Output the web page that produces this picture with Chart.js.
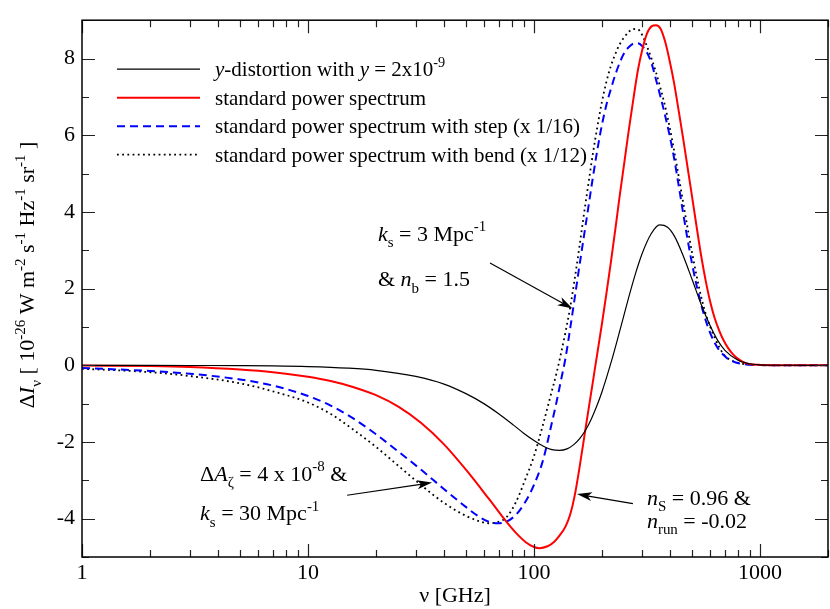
<!DOCTYPE html>
<html lang="en">
<head>
<meta charset="UTF-8">
<title>Spectral distortions</title>
<script src="https://cdn.jsdelivr.net/npm/chart.js"></script>
<style>
    body { margin: 0; background: #fff; }
    #wrap { width: 830px; height: 609px; }
</style>
</head>
<body>
<div id="wrap"><canvas id="spec" width="830" height="609"></canvas></div>
<script>
// frequencies in GHz, Delta I in 1e-26 W m^-2 s^-1 Hz^-1 sr^-1
var nuY = [1, 2, 3, 5, 7, 10, 15, 20, 30, 40, 50, 60, 70, 80, 90, 100, 110, 120, 130, 140, 150, 160, 170, 180, 190, 200,
    220, 240, 260, 280, 300, 330, 360, 390, 420, 460, 500, 550, 600, 650, 700, 800, 900, 1000, 1200, 2000];
var dIY = [0, -0.002, -0.005, -0.01, -0.017, -0.034, -0.075, -0.131, -0.29, -0.49, -0.74, -1.0, -1.27, -1.53, -1.77, -1.96,
    -2.11, -2.20, -2.22, -2.18, -2.07, -1.90, -1.67, -1.38, -1.05, -0.69,
    0.10, 0.91, 1.68, 2.35, 2.89, 3.43, 3.66, 3.60, 3.35, 2.82, 2.25, 1.58, 1.05, 0.65, 0.39, 0.13, 0.04, 0.012, 0.001, 0];

var nuStd = [1, 2, 3, 5, 7, 10, 12.6, 15.8, 20, 25.1, 31.6, 39.8, 50.1, 63.1, 75.3, 83.2, 92.3, 100, 105.7,
    114.8, 123, 129.4, 138, 144.5, 151.4, 158.5, 169.4, 173.8, 182, 190.5, 199.5, 208.9, 218.8, 229.1, 239.9, 251.2,
    263, 275.4, 288.4, 302, 316.2, 331.1, 346.7, 363.1, 380.2, 398.1, 416.9, 436.5, 457.1, 478.6, 501.2, 524.8, 549.5,
    575.4, 602.6, 631, 660.7, 691.8, 724.4, 758.6, 794.3, 831.8, 871, 933, 1000, 1259, 2000];
var dIStd = [-0.005, -0.02, -0.045, -0.11, -0.18, -0.30, -0.41, -0.565, -0.78, -1.08, -1.5, -2.05, -2.73, -3.48, -4.07,
    -4.37, -4.62, -4.74, -4.77,
    -4.72, -4.6, -4.45, -4.2, -3.9, -3.4, -2.72, -1.62, -1.2, -0.45, 0.3, 1.05, 1.85, 2.68, 3.55, 4.45, 5.3,
    6.15, 6.95, 7.7, 8.25, 8.65, 8.84, 8.87, 8.78, 8.45, 7.95, 7.36, 6.65, 5.92, 5.15, 4.38, 3.6, 2.85,
    2.2, 1.65, 1.22, 0.9, 0.64, 0.44, 0.29, 0.18, 0.1, 0.05, 0.02, 0.01, 0, 0];

var nuFine = [1, 2, 3, 5, 7, 10, 12.6, 15.8, 20, 25.1, 31.6, 39.8, 50.1, 57.5, 63.1, 69.2, 75.9, 83.2, 91.2, 100, 109.6,
    120.2, 125.9, 131.8, 138, 144.5, 151.4, 158.5, 166, 173.8, 182, 190.5, 199.5, 208.9, 218.8, 229.1, 239.9, 251.2,
    263, 275.4, 288.4, 302, 316.2, 331.1, 346.7, 363.1, 380.2, 398.1, 416.9, 436.5, 457.1, 478.6, 501.2, 524.8, 549.5,
    575.4, 602.6, 631, 660.7, 691.8, 724.4, 758.6, 794.3, 871, 1000, 1259, 2000];
var dIStep = [-0.07, -0.15, -0.22, -0.37, -0.53, -0.8, -1.05, -1.38, -1.8, -2.25, -2.72, -3.22, -3.70, -3.96, -4.08,
    -4.12, -4.07, -3.9, -3.58, -3.12, -2.48,
    -1.48, -0.95, -0.38, 0.2, 0.95, 1.75, 2.55, 3.33, 4.1, 4.88, 5.6, 6.25, 6.78, 7.2, 7.58, 7.9, 8.15,
    8.3, 8.39, 8.4, 8.32, 8.16, 7.88, 7.45, 7.0, 6.52, 6.0, 5.4, 4.7, 3.97, 3.27, 2.63, 2.07, 1.58,
    1.17, 0.84, 0.58, 0.39, 0.26, 0.16, 0.1, 0.06, 0.02, 0.005, 0, 0];
var dIBend = [-0.09, -0.18, -0.28, -0.47, -0.68, -0.97, -1.27, -1.67, -2.13, -2.62, -3.12, -3.58, -3.93, -4.07, -4.12,
    -4.09, -3.95, -3.57, -3.0, -2.37, -1.55,
    -0.65, -0.2, 0.32, 0.88, 1.5, 2.25, 3.05, 3.9, 4.7, 5.5, 6.2, 6.85, 7.38, 7.8, 8.12, 8.38, 8.56,
    8.7, 8.77, 8.76, 8.6, 8.32, 8.0, 7.64, 7.22, 6.76, 6.22, 5.6, 4.94, 4.25, 3.57, 2.92, 2.32, 1.78,
    1.34, 1.0, 0.72, 0.47, 0.28, 0.17, 0.11, 0.07, 0.025, 0.007, 0, 0];

var xMajor = [1, 10, 100, 1000];
var yMajor = [-4, -2, 0, 2, 4, 6, 8];
var yMinor = [-5, -3, -1, 1, 3, 5, 7, 9];

var FONT = '"Liberation Serif", "Times New Roman", serif';
Chart.defaults.font.family = FONT;
Chart.defaults.color = '#000';

function pts(xs, ys) {
    return xs.map(function (x, i) { return { x: x, y: ys[i] }; });
}

// text with italics, super- and subscripts: parts = [[text, mode], ...]
function rich(ctx, parts, x, y, size, measureOnly) {
    var cx = x;
    parts.forEach(function (p) {
        var m = p[1] || '';
        var small = m.indexOf('sup') >= 0 || m.indexOf('sub') >= 0;
        var fs = small ? size * 0.68 : size;
        ctx.font = (m.charAt(0) === 'i' ? 'italic ' : '') + fs + 'px ' + FONT;
        var dy = m.indexOf('sup') >= 0 ? -size * 0.42 : (m.indexOf('sub') >= 0 ? size * 0.3 : 0);
        if (!measureOnly) ctx.fillText(p[0], cx, y + dy);
        cx += ctx.measureText(p[0]).width;
    });
    return cx - x;
}

function arrow(ctx, x1, y1, x2, y2) {
    var ang = Math.atan2(y2 - y1, x2 - x1);
    ctx.beginPath();
    ctx.moveTo(x1, y1);
    ctx.lineTo(x2 - 10 * Math.cos(ang), y2 - 10 * Math.sin(ang));
    ctx.stroke();
    ctx.save();
    ctx.translate(x2, y2);
    ctx.rotate(ang);
    ctx.beginPath();
    ctx.moveTo(0, 0);
    ctx.lineTo(-15, -4.5);
    ctx.lineTo(-11, 0);
    ctx.lineTo(-15, 4.5);
    ctx.closePath();
    ctx.fill();
    ctx.restore();
}

var framePlugin = {
    id: 'frame',
    afterDatasetsDraw: function (chart) {
        var ctx = chart.ctx, a = chart.chartArea, sx = chart.scales.x, sy = chart.scales.y;
        ctx.save();
        ctx.strokeStyle = '#222';
        ctx.lineWidth = 1.2;
        ctx.beginPath();
        for (var d = 1; d <= 1000; d *= 10) {
            for (var m = 1; m <= 9; m++) {
                var v = d * m;
                if (v > 2000) break;
                var len = m === 1 ? 13 : 7;
                var px = Math.round(sx.getPixelForValue(v)) + 0.5;
                ctx.moveTo(px, a.bottom); ctx.lineTo(px, a.bottom - len);
                ctx.moveTo(px, a.top); ctx.lineTo(px, a.top + len);
            }
        }
        yMajor.concat(yMinor).forEach(function (v) {
            var len = yMajor.indexOf(v) >= 0 ? 13 : 7;
            var py = Math.round(sy.getPixelForValue(v)) + 0.5;
            ctx.moveTo(a.left, py); ctx.lineTo(a.left + len, py);
            ctx.moveTo(a.right, py); ctx.lineTo(a.right - len, py);
        });
        ctx.stroke();
        ctx.strokeStyle = '#000';
        ctx.lineWidth = 1.5;
        ctx.strokeRect(a.left, a.top, a.right - a.left, a.bottom - a.top);
        ctx.restore();
    },
    afterDraw: function (chart) {
        var ctx = chart.ctx, a = chart.chartArea, sx = chart.scales.x, sy = chart.scales.y;
        var X = function (v) { return sx.getPixelForValue(v); };
        var Y = function (v) { return sy.getPixelForValue(v); };
        ctx.save();
        ctx.fillStyle = '#000';
        ctx.textBaseline = 'alphabetic';

        // y axis title, rotated
        var ttl = [['Δ'], ['I', 'i'], ['ν', 'sub'], [' [ 10'], ['-26', 'sup'], [' W m'], ['-2', 'sup'], [' s'], ['-1', 'sup'],
            [' Hz'], ['-1', 'sup'], [' sr'], ['-1', 'sup'], [' ]']];
        var w = rich(ctx, ttl, 0, 0, 22, true);
        ctx.save();
        ctx.translate(34, 275);
        ctx.rotate(-Math.PI / 2);
        rich(ctx, ttl, -w / 2, 0, 22);
        ctx.restore();

        // legend
        var rows = [
            [['y', 'i'], ['-distortion with '], ['y', 'i'], [' = 2x10'], ['-9', 'sup']],
            [['standard power spectrum']],
            [['standard power spectrum with step (x 1/16)']],
            [['standard power spectrum with bend (x 1/12)']]
        ];
        chart.data.datasets.forEach(function (ds, i) {
            var ly = a.top + 49 + i * 28.5;
            ctx.save();
            ctx.strokeStyle = ds.borderColor;
            ctx.lineWidth = ds.borderWidth;
            ctx.setLineDash(ds.borderDash || []);
            ctx.beginPath();
            ctx.moveTo(a.left + 35, ly);
            ctx.lineTo(a.left + 118, ly);
            ctx.stroke();
            ctx.restore();
            rich(ctx, rows[i], a.left + 133, ly + 7, 21);
        });

        // annotations
        ctx.strokeStyle = '#000';
        ctx.lineWidth = 1.2;
        arrow(ctx, X(63.9), Y(2.67), X(148), Y(1.48));
        arrow(ctx, X(14.9), Y(-3.39), X(35.4), Y(-3.06));
        arrow(ctx, X(274), Y(-3.61), X(155), Y(-3.36));
        rich(ctx, [['k', 'i'], ['s', 'sub'], [' = 3 Mpc'], ['-1', 'sup']], X(20.4), Y(3.25), 22);
        rich(ctx, [['& '], ['n', 'i'], ['b', 'sub'], [' = 1.5']], X(20.4), Y(2.06), 22);
        rich(ctx, [['Δ'], ['A', 'i'], ['ζ', 'sub'], [' = 4 x 10'], ['-8', 'sup'], [' &']], X(3.33), Y(-3.01), 22);
        rich(ctx, [['k', 'i'], ['s', 'sub'], [' = 30 Mpc'], ['-1', 'sup']], X(3.33), Y(-4.04), 22);
        rich(ctx, [['n', 'i'], ['S', 'sub'], [' = 0.96 &']], X(316), Y(-3.64), 22);
        rich(ctx, [['n', 'i'], ['run', 'sub'], [' = -0.02']], X(316), Y(-4.24), 22);
        ctx.restore();
    }
};

var ctx = document.getElementById('spec').getContext('2d');
var chart = new Chart(ctx, {
    type: 'line',
    data: {
        datasets: [{
            label: 'y-distortion with y = 2x10^-9',
            data: pts(nuY, dIY),
            borderColor: '#000000',
            borderWidth: 1.2
        }, {
            label: 'standard power spectrum',
            data: pts(nuStd, dIStd),
            borderColor: '#ff0000',
            borderWidth: 2
        }, {
            label: 'standard power spectrum with step (x 1/16)',
            data: pts(nuFine, dIStep),
            borderColor: '#0000ff',
            borderWidth: 2,
            borderDash: [8, 5]
        }, {
            label: 'standard power spectrum with bend (x 1/12)',
            data: pts(nuFine, dIBend),
            borderColor: '#000000',
            borderWidth: 1.8,
            borderDash: [1.8, 3.4]
        }]
    },
    options: {
        responsive: false,
        animation: false,
        layout: { padding: { left: 0, top: 2, right: 2, bottom: 0 } },
        elements: {
            point: { radius: 0 },
            line: { cubicInterpolationMode: 'monotone', fill: false }
        },
        plugins: {
            legend: { display: false },
            tooltip: { enabled: false }
        },
        scales: {
            x: {
                type: 'logarithmic',
                min: 1,
                max: 2000,
                grid: { display: false, drawTicks: false },
                border: { display: false },
                ticks: {
                    font: { size: 22 },
                    color: '#000',
                    padding: 3,
                    maxRotation: 0,
                    autoSkip: false,
                    callback: function (v) { return String(v); }
                },
                afterBuildTicks: function (s) {
                    s.ticks = xMajor.map(function (v) { return { value: v }; });
                },
                afterFit: function (s) { s.height = 52; },
                title: {
                    display: true,
                    text: 'ν [GHz]',
                    font: { size: 22 },
                    color: '#000',
                    padding: { top: 0, bottom: 0 }
                }
            },
            y: {
                type: 'linear',
                min: -5,
                max: 9,
                grid: { display: false, drawTicks: false },
                border: { display: false },
                ticks: {
                    font: { size: 22 },
                    color: '#000',
                    padding: 7,
                    callback: function (v) { return String(v); }
                },
                afterBuildTicks: function (s) {
                    s.ticks = yMajor.map(function (v) { return { value: v }; });
                },
                afterFit: function (s) { s.width = 82; }
            }
        }
    },
    plugins: [framePlugin]
});
</script>
</body>
</html>
